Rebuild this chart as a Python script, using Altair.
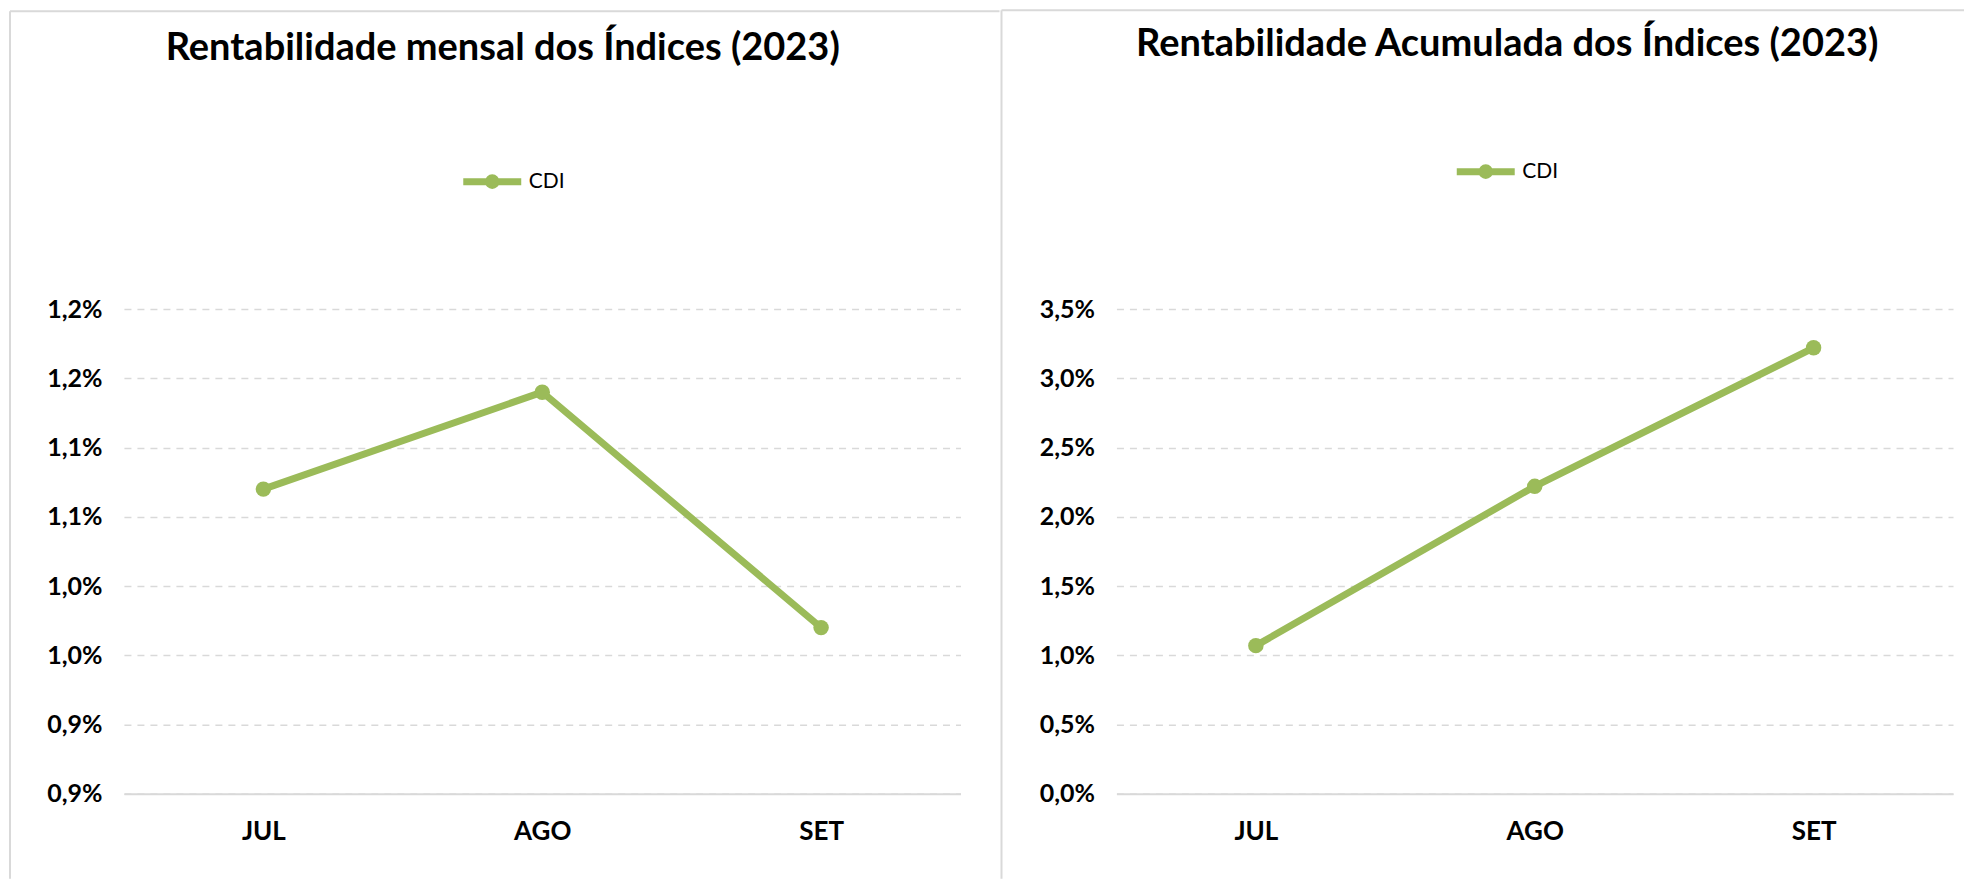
import altair as alt
import pandas as pd

meses = ["JUL", "AGO", "SET"]
mensal = [1.07, 1.14, 0.97]
acumulada = [1.07, 2.22, 3.22]
ticks_mensal = [0.85, 0.90, 0.95, 1.00, 1.05, 1.10, 1.15, 1.20]
ticks_acum = [0.0, 0.5, 1.0, 1.5, 2.0, 2.5, 3.0, 3.5]
serie = "CDI"
titulos = ["Rentabilidade mensal dos Índices (2023)",
           "Rentabilidade Acumulada dos Índices (2023)"]

GREEN = "#9BBB59"
GRID = "#d9d9d9"
FONT = "Lato"
W, H = 837, 485
SYMBOL = "M-1,0L1,0M0.13,0A0.13,0.13,0,1,1,-0.13,0A0.13,0.13,0,1,1,0.13,0"


def panel(values, ticks, domain, label_expr, title, frame, title_pos, legend_pos):
    df = pd.DataFrame({"mes": meses, "valor": values, "serie": [serie] * len(meses)})
    one = pd.DataFrame({"k": [0]})
    line = alt.Chart(df).mark_line(
        strokeWidth=7, strokeCap="round", strokeJoin="round",
        point=alt.OverlayMarkDef(filled=True, size=240, opacity=1),
    ).encode(
        x=alt.X("mes:N", sort=meses,
                scale=alt.Scale(type="point", padding=0.5),
                axis=alt.Axis(title=None, labelAngle=0, ticks=False, grid=False,
                              domain=True, domainColor=GRID, domainWidth=2,
                              labelFont=FONT, labelFontSize=26, labelFontWeight="bold",
                              labelColor="black", labelPadding=25)),
        y=alt.Y("valor:Q",
                scale=alt.Scale(domain=domain, nice=False, zero=False),
                axis=alt.Axis(title=None, values=ticks, labelExpr=label_expr,
                              grid=True, gridDash=[7, 6], gridColor=GRID, gridWidth=1.5,
                              domain=False, ticks=False,
                              labelFont=FONT, labelFontSize=25, labelFontWeight="bold",
                              labelColor="black", labelPadding=22)),
        color=alt.Color("serie:N",
                        scale=alt.Scale(domain=[serie], range=[GREEN]),
                        legend=alt.Legend(orient="none", legendX=legend_pos[0],
                                          legendY=legend_pos[1], title=None,
                                          symbolType=SYMBOL, symbolSize=3364,
                                          symbolStrokeWidth=7, symbolFillColor=GREEN,
                                          symbolStrokeColor=GREEN,
                                          labelFont=FONT, labelFontSize=21,
                                          labelColor="black", labelOffset=4,
                                          padding=0)),
    )
    fx0, fy0, fx1, fy1 = frame
    vline = alt.Chart(one).mark_rule(color=GRID, strokeWidth=2).encode(
        x=alt.value(fx0), y=alt.value(fy0), y2=alt.value(fy1))
    hline = alt.Chart(one).mark_rule(color=GRID, strokeWidth=2).encode(
        x=alt.value(fx0), x2=alt.value(fx1), y=alt.value(fy0))
    ttl = alt.Chart(one).mark_text(
        font=FONT, fontSize=38, fontWeight="bold", color="black",
        align="center", baseline="middle",
    ).encode(x=alt.value(title_pos[0]), y=alt.value(title_pos[1]), text=alt.value(title))
    return alt.layer(vline, hline, ttl, line).properties(width=W, height=H)


left = panel(mensal, ticks_mensal, [0.85, 1.20],
             "replace(format(round(datum.value*10+0.0001)/10, '.1f'), '.', ',') + '%'",
             titulos[0], (-114, -298, 876, 570), (379, -260), (336, -160))
right = panel(acumulada, ticks_acum, [0.0, 3.5],
              "replace(format(datum.value, '.1f'), '.', ',') + '%'",
              titulos[1], (-115, -299, 848, 570), (391, -264), (337, -170))

chart = alt.hconcat(left, right, spacing=0).properties(
    padding={"left": 1, "top": 1, "right": 0, "bottom": 0}
).configure_view(stroke=None).resolve_scale(color="independent", y="independent", x="independent")

chart.save("out.html", embed_options={"renderer": "svg", "actions": False})
